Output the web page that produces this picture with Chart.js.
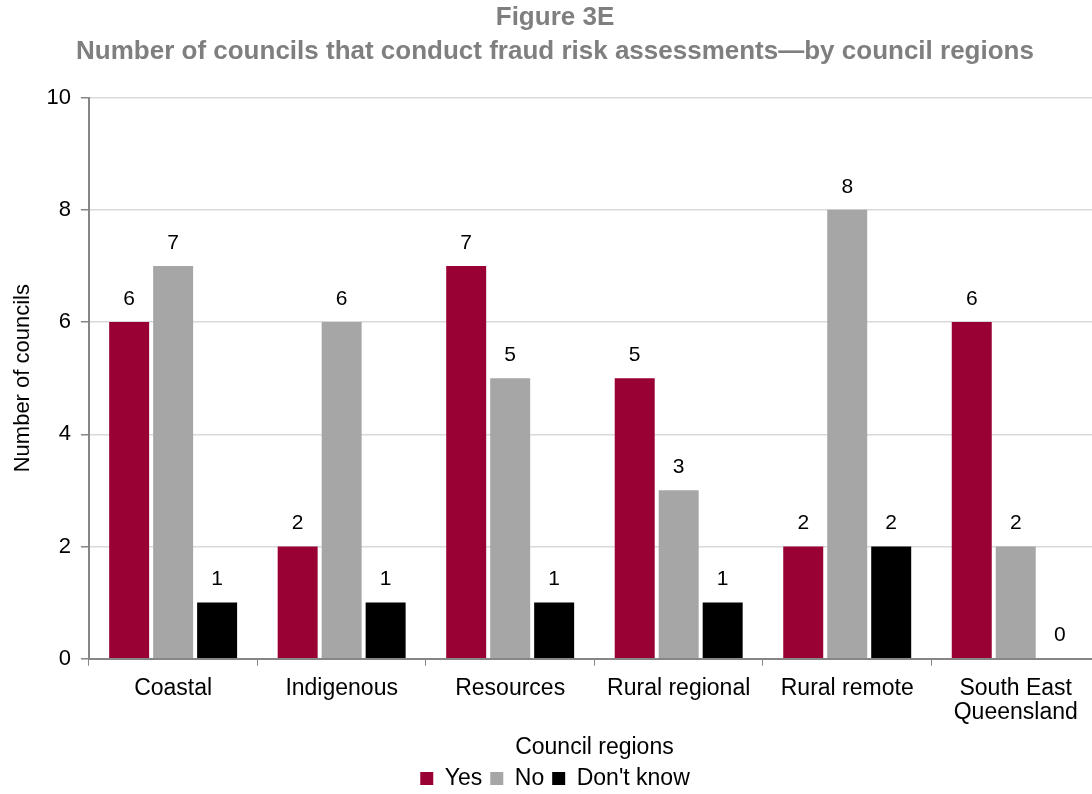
<!DOCTYPE html>
<html>
<head>
<meta charset="utf-8">
<script src="https://cdn.jsdelivr.net/npm/chart.js@4/dist/chart.umd.min.js"></script>
<style>
  html, body { margin: 0; padding: 0; background: #ffffff; overflow: hidden; }
  #wrap { position: relative; width: 1130px; height: 794px; }
</style>
</head>
<body>
<div id="wrap"><canvas id="c"></canvas></div>
<script>
const titleLines = ['Figure 3E', 'Number of councils that conduct fraud risk assessments\u2014by council regions'];
const categories = ['Coastal', 'Indigenous', 'Resources', 'Rural regional', 'Rural remote', ['South East', 'Queensland']];
const yesValues = [6, 2, 7, 5, 2, 6];
const noValues = [7, 6, 5, 3, 8, 2];
const dontKnowValues = [1, 1, 1, 1, 2, 0];
const seriesNames = ['Yes', 'No', "Don't know"];
const yTicks = [0, 2, 4, 6, 8, 10];
const xAxisTitle = 'Council regions';
const yAxisTitle = 'Number of councils';

const FONT = "'Liberation Sans', Arial, sans-serif";

const valueLabels = {
  id: 'valueLabels',
  afterDatasetsDraw(chart) {
    const ctx = chart.ctx;
    ctx.save();
    ctx.font = '21px ' + FONT;
    ctx.fillStyle = '#000000';
    ctx.textAlign = 'center';
    ctx.textBaseline = 'middle';
    chart.data.datasets.forEach((ds, i) => {
      const meta = chart.getDatasetMeta(i);
      meta.data.forEach((bar, j) => {
        ctx.fillText(String(ds.data[j]), bar.x, bar.y - 23);
      });
    });
    ctx.restore();
  }
};

new Chart(document.getElementById('c'), {
  type: 'bar',
  data: {
    labels: categories,
    datasets: [
      { label: seriesNames[0], data: yesValues, backgroundColor: '#990033' },
      { label: seriesNames[1], data: noValues, backgroundColor: '#A6A6A6' },
      { label: seriesNames[2], data: dontKnowValues, backgroundColor: '#000000' }
    ]
  },
  options: {
    responsive: true,
    maintainAspectRatio: false,
    animation: false,
    categoryPercentage: 0.783,
    barPercentage: 0.909,
    layout: { padding: { left: 10, right: 30, top: 0, bottom: -6 } },
    plugins: {
      title: {
        display: true,
        text: titleLines,
        color: '#7F7F7F',
        font: { family: FONT, size: 26, weight: 'bold', lineHeight: 1.3 },
        padding: { top: 1, bottom: 29 }
      },
      legend: {
        display: true,
        position: 'bottom',
        labels: {
          color: '#000000',
          font: { family: FONT, size: 23 },
          boxWidth: 13,
          boxHeight: 13,
          padding: 8
        }
      },
      tooltip: { enabled: false }
    },
    scales: {
      x: {
        grid: {
          offset: true,
          drawOnChartArea: false,
          drawTicks: true,
          tickLength: 7,
          color: '#868686',
          tickColor: '#868686'
        },
        border: { display: true, color: '#868686', width: 2 },
        ticks: {
          color: '#000000',
          font: { family: FONT, size: 23, lineHeight: 1.05 },
          padding: 11,
          maxRotation: 0,
          autoSkip: false
        },
        title: {
          display: true,
          text: xAxisTitle,
          color: '#000000',
          font: { family: FONT, size: 23, lineHeight: 1.0 },
          padding: { top: 0, bottom: 0 }
        }
      },
      y: {
        min: yTicks[0],
        max: yTicks[yTicks.length - 1],
        afterBuildTicks(scale) { scale.ticks = yTicks.map(v => ({ value: v })); },
        grid: {
          color: '#D9D9D9',
          tickColor: '#868686',
          tickLength: 8,
          lineWidth: 1.5
        },
        border: { display: true, color: '#868686', width: 2 },
        ticks: {
          color: '#000000',
          font: { family: FONT, size: 22 },
          padding: 10
        },
        title: {
          display: true,
          text: yAxisTitle,
          color: '#000000',
          font: { family: FONT, size: 22, lineHeight: 1.2 },
          padding: { top: 0, bottom: 0 }
        }
      }
    }
  },
  plugins: [valueLabels]
});
</script>
</body>
</html>
